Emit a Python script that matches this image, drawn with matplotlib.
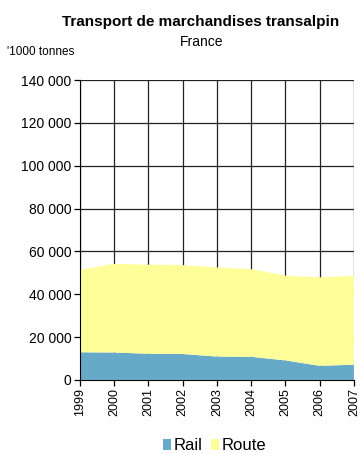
import numpy as np
import matplotlib.pyplot as plt

plt.rcParams['font.family'] = ['Liberation Sans', 'DejaVu Sans']

years = ['1999', '2000', '2001', '2002', '2003', '2004', '2005', '2006', '2007']
rail = [12900, 12800, 12200, 12100, 10900, 10800, 9100, 6600, 7100]
total = [51400, 54200, 53800, 53600, 52500, 51700, 48700, 47900, 48600]
route = [t - r for t, r in zip(total, rail)]

RAIL_COLOR = '#66a9c9'
ROUTE_COLOR = '#ffff99'

fig = plt.figure(figsize=(3.6, 4.55), dpi=100)
ax = fig.add_axes([0.222, 0.165, 0.761, 0.659])

x = np.arange(len(years))
ax.stackplot(x, rail, route, colors=[RAIL_COLOR, ROUTE_COLOR],
             labels=['Rail', 'Route'], zorder=2)

ax.set_xlim(0, len(years) - 1)
ax.set_ylim(0, 140000)
yt = np.arange(0, 140001, 20000)
ax.set_yticks(yt)
ax.set_yticklabels([format(v, ',').replace(',', ' ') for v in yt], fontsize=10)
ax.set_xticks(x)
ax.set_xticklabels(years, rotation=90, fontsize=9)

ax.grid(True, color='#222222', linewidth=0.9, zorder=1)
ax.set_axisbelow(True)
for s in ['top', 'right']:
    ax.spines[s].set_visible(False)
ax.spines['left'].set_color('black')
ax.spines['bottom'].set_color('black')
ax.tick_params(axis='both', direction='out', length=4, width=0.9, pad=2)

fig.text(0.558, 0.952, 'Transport de marchandises transalpin', ha='center',
         va='center', fontsize=11, fontweight='bold')
fig.text(0.56, 0.907, 'France', ha='center', va='center', fontsize=10)
fig.text(0.02, 0.886, "'1000 tonnes", ha='left', va='center', fontsize=8.5)

ax.legend(loc='center', bbox_to_anchor=(0.597, 0.02),
          bbox_transform=fig.transFigure, ncol=2,
          frameon=False, fontsize=12, handlelength=0.45, handleheight=0.55,
          handletextpad=0.2, columnspacing=0.5, borderpad=0.1)

plt.savefig('out.png', dpi=100)
